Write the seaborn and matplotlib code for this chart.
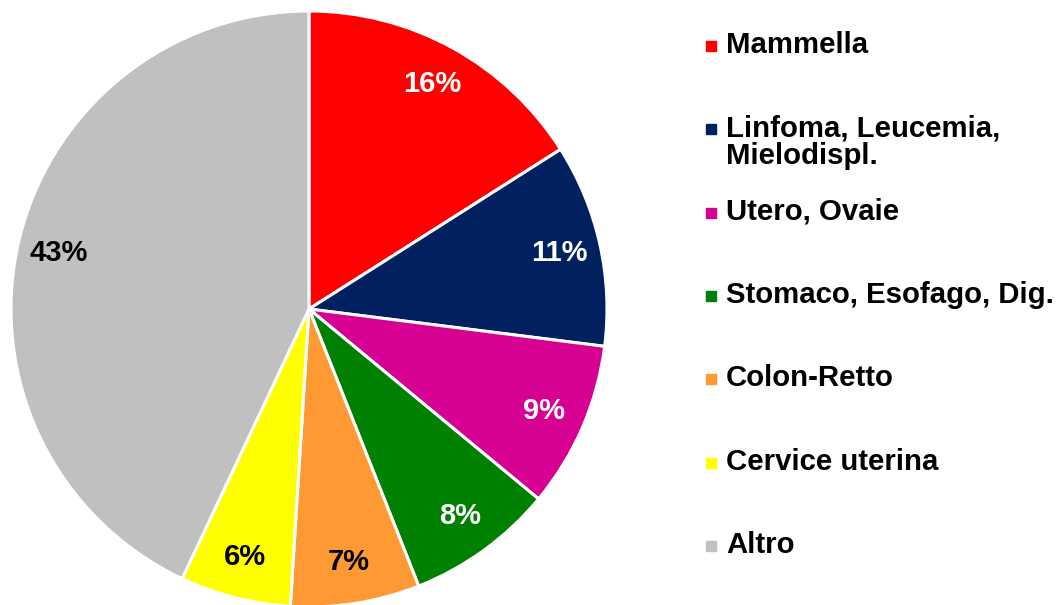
import matplotlib
matplotlib.use("Agg")
import matplotlib.pyplot as plt
from matplotlib.patches import Rectangle
import seaborn as sns

# Data
labels = [
    "Mammella",
    "Linfoma, Leucemia,\nMielodispl.",
    "Utero, Ovaie",
    "Stomaco, Esofago, Dig.",
    "Colon-Retto",
    "Cervice uterina",
    "Altro",
]
shares = [16, 11, 9, 8, 7, 6, 43]
colors = ["#FF0000", "#002060", "#D60093", "#008000", "#FF9933", "#FFFF00", "#C0C0C0"]
text_colors = ["white", "white", "white", "white", "black", "black", "black"]

sns.set_theme(style="white")
plt.rcParams["font.family"] = ["Liberation Sans", "DejaVu Sans"]

W, H = 1058, 605
fig = plt.figure(figsize=(W / 100, H / 100), dpi=100)

# pie axes: centre (309, 309) px from top-left, radius 298 px
cx, cy, r = 309, 309, 298
ax = fig.add_axes([(cx - r) / W, (H - cy - r) / H, 2 * r / W, 2 * r / H])
wedges, _, autotexts = ax.pie(
    shares,
    colors=colors,
    startangle=90,
    counterclock=False,
    autopct="%d%%",
    pctdistance=0.86,
    radius=1.0,
    wedgeprops=dict(edgecolor="white", linewidth=2.2),
    textprops=dict(fontsize=21, fontweight="bold"),
)
for t, c in zip(autotexts, text_colors):
    t.set_color(c)
ax.set_xlim(-1, 1)
ax.set_ylim(-1, 1)
ax.set_aspect("equal")
ax.axis("off")

# Legend, laid out as in the reference (first line aligned with marker)
y0, step = 46, 83.3
for i, (lab, col) in enumerate(zip(labels, colors)):
    y = y0 + i * step
    fig.patches.append(
        Rectangle((706 / W, 1 - (y + 5) / H), 10 / W, 10 / H,
                  transform=fig.transFigure, color=col, figure=fig)
    )
    fig.text(726 / W, 1 - (y - 15) / H, lab, fontsize=21.2, fontweight="bold",
             va="top", ha="left", linespacing=1.0, color="black")

fig.savefig("out.png", dpi=100, facecolor="white")
